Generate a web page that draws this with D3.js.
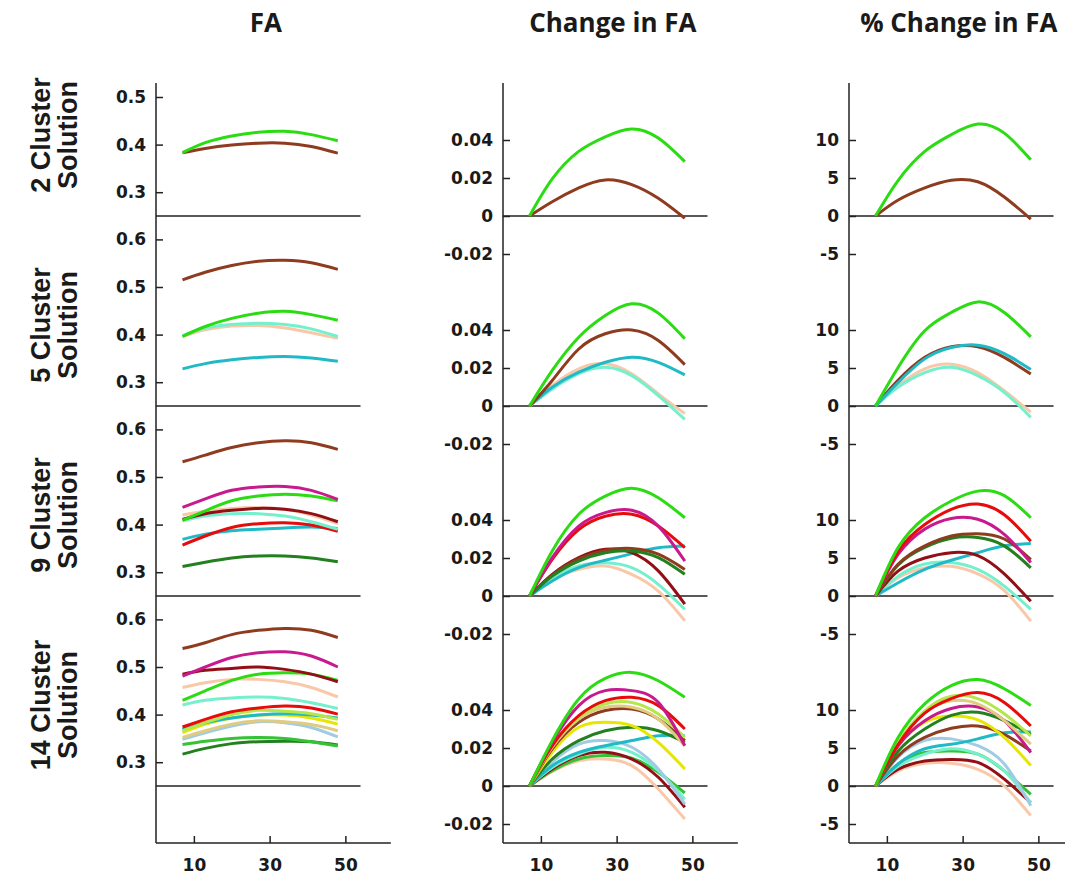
<!DOCTYPE html>
<html lang="en">
<head>
<meta charset="UTF-8">
<title>FA by cluster solution</title>
<script src="https://cdn.jsdelivr.net/npm/d3@7"></script>
<style>
  body { margin: 0; background: #fff; }
  .tick text { font-family: "DejaVu Sans", sans-serif; font-weight: bold; font-size: 17px; fill: #1a1a1a; }
  .title { font-family: "Open Sans", sans-serif; font-weight: bold; font-size: 26px; fill: #1a1a1a; }
  .rowlab { font-family: "Liberation Sans", Arial, sans-serif; font-weight: bold; font-size: 27px; fill: #1a1a1a; }
</style>
</head>
<body>
<div id="chart"></div>
<script>
// ---- data ----
const ages = [7, 13, 20, 27, 34, 41, 48];
const xTicks = [10, 30, 50];
const colTitles = ["FA", "Change in FA", "% Change in FA"];
const rowLabels = [["2 Cluster", "Solution"], ["5 Cluster", "Solution"], ["9 Cluster", "Solution"], ["14 Cluster", "Solution"]];
const faTicksTop = [0.3, 0.4, 0.5];
const faTicks = [0.3, 0.4, 0.5, 0.6];
const chgTicks = [-0.02, 0, 0.02, 0.04];
const pctTicks = [-5, 0, 5, 10];

const fa2 = {
  brown: [0.383, 0.392, 0.399, 0.403, 0.403, 0.396, 0.382],
  lime:  [0.383, 0.404, 0.418, 0.426, 0.428, 0.421, 0.408]
};
const chg2 = {
  brown: [0, 0.0075, 0.0148, 0.019, 0.0165, 0.0093, -0.0012],
  lime:  [0, 0.0195, 0.034, 0.0417, 0.0458, 0.041, 0.0286]
};
const pct2 = {
  brown: [0, 2.1, 3.7, 4.7, 4.5, 2.5, -0.4],
  lime:  [0, 4.7, 8.5, 10.7, 12.1, 10.9, 7.4]
};

const fa5 = {
  teal:  [0.328, 0.339, 0.347, 0.352, 0.354, 0.351, 0.344],
  peach: [0.396, 0.41, 0.418, 0.419, 0.414, 0.404, 0.392],
  aqua:  [0.398, 0.414, 0.421, 0.424, 0.421, 0.412, 0.396],
  lime:  [0.396, 0.417, 0.434, 0.445, 0.449, 0.442, 0.43],
  brown: [0.515, 0.531, 0.545, 0.554, 0.556, 0.551, 0.537]
};
const chg5 = {
  peach: [0, 0.0108, 0.0196, 0.0222, 0.017, 0.0064, -0.004],
  aqua:  [0, 0.009, 0.017, 0.0204, 0.016, 0.0055, -0.007],
  teal:  [0, 0.0099, 0.0178, 0.023, 0.0257, 0.023, 0.0164],
  brown: [0, 0.0134, 0.030, 0.038, 0.040, 0.0345, 0.0218],
  lime:  [0, 0.0187, 0.0362, 0.0476, 0.0538, 0.0489, 0.0354]
};
const pct5 = {
  peach: [0, 2.7, 4.9, 5.5, 4.4, 2.0, -0.8],
  aqua:  [0, 2.5, 4.4, 5.1, 4.0, 1.8, -1.5],
  brown: [0, 3.4, 6.4, 7.8, 7.8, 6.4, 4.2],
  teal:  [0, 3.1, 6.2, 7.7, 8.0, 6.9, 4.8],
  lime:  [0, 5.1, 9.9, 12.3, 13.7, 12.3, 9.1]
};

const fa9 = {
  peach:     [0.42, 0.428, 0.434, 0.436, 0.432, 0.42, 0.402],
  darkgreen: [0.312, 0.321, 0.330, 0.334, 0.334, 0.33, 0.322],
  teal:      [0.369, 0.38, 0.387, 0.39, 0.393, 0.395, 0.392],
  red:       [0.357, 0.376, 0.394, 0.402, 0.404, 0.399, 0.386],
  aqua:      [0.408, 0.418, 0.423, 0.423, 0.418, 0.406, 0.39],
  darkred:   [0.411, 0.423, 0.43, 0.434, 0.432, 0.423, 0.406],
  lime:      [0.409, 0.429, 0.45, 0.46, 0.464, 0.46, 0.45],
  magenta:   [0.436, 0.454, 0.472, 0.479, 0.48, 0.472, 0.453],
  brown:     [0.532, 0.546, 0.562, 0.572, 0.576, 0.572, 0.558]
};
const chg9 = {
  peach:     [0, 0.0088, 0.014, 0.0158, 0.0114, 0.0026, -0.013],
  aqua:      [0, 0.0096, 0.0158, 0.0175, 0.0149, 0.0061, -0.007],
  teal:      [0, 0.0079, 0.0149, 0.0188, 0.0223, 0.0254, 0.0263],
  darkred:   [0, 0.0114, 0.0202, 0.0246, 0.0228, 0.0132, -0.0043],
  brown:     [0, 0.011, 0.0195, 0.024, 0.025, 0.022, 0.014],
  darkgreen: [0, 0.0105, 0.0184, 0.0228, 0.0237, 0.0202, 0.0114],
  red:       [0, 0.0193, 0.035, 0.042, 0.043, 0.0368, 0.0254],
  magenta:   [0, 0.0202, 0.0368, 0.0439, 0.0451, 0.0368, 0.0184],
  lime:      [0, 0.0237, 0.043, 0.0526, 0.0567, 0.0517, 0.0412]
};
const pct9 = {
  peach:     [0, 2.4, 3.7, 3.9, 2.9, 0.7, -3.3],
  aqua:      [0, 2.6, 4.2, 4.4, 3.5, 1.3, -1.75],
  teal:      [0, 1.75, 3.5, 4.7, 5.7, 6.6, 6.9],
  darkred:   [0, 3.3, 5.0, 5.7, 5.3, 2.9, -0.7],
  darkgreen: [0, 4.1, 6.4, 7.6, 7.7, 6.6, 3.7],
  brown:     [0, 4.2, 6.6, 7.9, 8.2, 7.5, 4.8],
  magenta:   [0, 5.5, 8.8, 10.2, 10.1, 8.1, 4.4],
  red:       [0, 5.9, 9.4, 11.4, 12.1, 10.7, 7.2],
  lime:      [0, 6.4, 10.3, 12.5, 13.8, 13.2, 10.3]
};

const fa14 = {
  darkgreen: [0.317, 0.329, 0.339, 0.343, 0.344, 0.343, 0.336],
  green:     [0.337, 0.344, 0.35, 0.352, 0.35, 0.343, 0.334],
  lightblue: [0.348, 0.362, 0.376, 0.385, 0.383, 0.373, 0.353],
  tan:       [0.352, 0.366, 0.38, 0.387, 0.385, 0.379, 0.366],
  yellow:    [0.362, 0.38, 0.393, 0.399, 0.399, 0.393, 0.38],
  teal:      [0.369, 0.383, 0.393, 0.399, 0.402, 0.399, 0.393],
  ygreen:    [0.366, 0.383, 0.40, 0.409, 0.407, 0.402, 0.39],
  red:       [0.374, 0.39, 0.406, 0.414, 0.418, 0.414, 0.401],
  aqua:      [0.42, 0.43, 0.435, 0.437, 0.434, 0.425, 0.413],
  peach:     [0.457, 0.467, 0.474, 0.474, 0.469, 0.457, 0.437],
  lime:      [0.43, 0.45, 0.472, 0.485, 0.488, 0.485, 0.472],
  darkred:   [0.485, 0.493, 0.497, 0.5, 0.495, 0.485, 0.469],
  magenta:   [0.481, 0.5, 0.52, 0.53, 0.532, 0.523, 0.5],
  brown:     [0.539, 0.551, 0.568, 0.577, 0.581, 0.577, 0.562]
};
const chg14 = {
  peach:     [0, 0.0076, 0.0133, 0.0142, 0.0107, -0.0016, -0.0174],
  green:     [0, 0.0081, 0.0142, 0.016, 0.0146, 0.0072, -0.0037],
  darkred:   [0, 0.009, 0.016, 0.0177, 0.0142, 0.0046, -0.0112],
  aqua:      [0, 0.0098, 0.0168, 0.0204, 0.0177, 0.0081, -0.007],
  lightblue: [0, 0.0125, 0.022, 0.0239, 0.0204, 0.009, -0.0095],
  teal:      [0, 0.0107, 0.0177, 0.0212, 0.0239, 0.0265, 0.0265],
  darkgreen: [0, 0.0142, 0.0239, 0.0291, 0.0309, 0.0291, 0.023],
  yellow:    [0, 0.0177, 0.0309, 0.0335, 0.0318, 0.023, 0.009],
  brown:     [0, 0.0195, 0.0335, 0.0397, 0.0405, 0.0353, 0.0239],
  tan:       [0, 0.0204, 0.0353, 0.0414, 0.0414, 0.0353, 0.0212],
  ygreen:    [0, 0.0212, 0.0362, 0.0432, 0.044, 0.0379, 0.0256],
  red:       [0, 0.0212, 0.037, 0.0449, 0.0467, 0.0423, 0.030],
  magenta:   [0, 0.023, 0.0423, 0.0502, 0.0502, 0.044, 0.0212],
  lime:      [0, 0.0239, 0.0458, 0.0566, 0.0598, 0.0554, 0.0467]
};
const pct14 = {
  peach:     [0, 2.0, 3.0, 3.0, 2.2, 0, -3.9],
  darkred:   [0, 2.2, 3.3, 3.5, 3.1, 0.9, -2.2],
  green:     [0, 2.9, 4.4, 4.6, 4.2, 2.0, -1.1],
  aqua:      [0, 2.6, 4.2, 4.9, 4.2, 2.0, -2.2],
  lightblue: [0, 3.8, 6.0, 6.2, 5.3, 2.9, -2.6],
  teal:      [0, 2.9, 4.9, 5.5, 6.2, 7.0, 7.1],
  brown:     [0, 4.0, 6.4, 7.6, 7.9, 6.8, 4.6],
  yellow:    [0, 5.3, 8.4, 9.2, 8.7, 6.4, 2.7],
  darkgreen: [0, 4.6, 7.5, 9.3, 9.7, 8.6, 6.8],
  magenta:   [0, 5.3, 8.6, 10.2, 10.4, 8.6, 4.4],
  tan:       [0, 5.7, 9.7, 11.2, 10.8, 8.6, 5.5],
  ygreen:    [0, 5.7, 9.9, 11.8, 11.5, 9.5, 6.6],
  red:       [0, 5.5, 9.6, 11.5, 12.3, 11.0, 7.9],
  lime:      [0, 6.4, 10.8, 13.2, 14.0, 12.8, 10.6]
};

const panels = [
  [fa2, chg2, pct2],
  [fa5, chg5, pct5],
  [fa9, chg9, pct9],
  [fa14, chg14, pct14]
];

// ---- styling ----
const colors = {
  lime: "#2bdc12", brown: "#8e3b1f", aqua: "#74f0cc", teal: "#1fbac6",
  peach: "#f9c8a8", magenta: "#c81a8e", darkred: "#920f16", red: "#e80b0b",
  darkgreen: "#23801f", yellow: "#e6e600", ygreen: "#b5e64a", tan: "#e0cc80",
  lightblue: "#9fcbe3", green: "#36c236"
};

const width = 1065, height = 879;
const firstZero = 216, rowPitch = 190;
const axisTop = 83, axisBottom = 843;
const colOrigin = [156, 503, 849];
const pxPerYear = 3.7875;
// per column: value at the row line, pixels per unit
const colBase = [0.25, 0, 0];
const colK = [476, 1900, 7.6];

const svg = d3.select("#chart").append("svg")
    .attr("width", width)
    .attr("height", height);

const fmt = [
  d => d.toFixed(1),
  d => d === 0 ? "0" : d.toFixed(2),
  d => String(d)
];

const line = d3.line().curve(d3.curveNatural);

colTitles.forEach((t, c) => {
  const x = d3.scaleLinear().domain([0, 50]).range([colOrigin[c], colOrigin[c] + 50 * pxPerYear]);
  const g = svg.append("g");

  // title
  g.append("text").attr("class", "title")
      .attr("x", x(29)).attr("y", 32)
      .attr("text-anchor", "middle")
      .text(t);

  for (let r = 0; r < 4; r++) {
    const zero = firstZero + r * rowPitch;
    const y = d3.scaleLinear()
        .domain([colBase[c], colBase[c] + rowPitch / colK[c]])
        .range([zero, zero - rowPitch]);

    let ticks = c === 0 ? (r === 0 ? faTicksTop : faTicks) : (c === 1 ? chgTicks : pctTicks);

    g.append("g")
        .attr("transform", `translate(${x(0)},0)`)
        .call(d3.axisLeft(y).tickValues(ticks).tickFormat(fmt[c]).tickSize(-7).tickPadding(10))
        .call(a => a.select(".domain").remove())
        .call(a => a.selectAll(".tick line").attr("stroke", "#222").attr("stroke-width", 1.5));

    // row line
    g.append("line")
        .attr("x1", x(0)).attr("x2", x(54))
        .attr("y1", y(colBase[c])).attr("y2", y(colBase[c]))
        .attr("stroke", "#222").attr("stroke-width", 1.5);

    const series = panels[r][c];
    Object.keys(series).forEach(k => {
      g.append("path")
          .attr("d", line(ages.map((a, i) => [x(a), y(series[k][i])])))
          .attr("fill", "none")
          .attr("stroke", colors[k])
          .attr("stroke-width", 3);
    });
  }

  // vertical axis line
  g.append("line")
      .attr("x1", x(0)).attr("x2", x(0))
      .attr("y1", axisTop).attr("y2", axisBottom)
      .attr("stroke", "#222").attr("stroke-width", 1.5);

  // bottom axis
  g.append("g")
      .attr("transform", `translate(0,${axisBottom})`)
      .call(d3.axisBottom(x.copy().domain([0, 62]).range([x(0), x(62)])).tickValues(xTicks).tickSize(-7).tickPadding(16))
      .call(a => a.select(".domain").attr("stroke", "#222").attr("stroke-width", 1.5).attr("d", `M${x(0)},0H${x(62)}`))
      .call(a => a.selectAll(".tick line").attr("stroke", "#222").attr("stroke-width", 1.5));
});

// row labels
rowLabels.forEach((lab, r) => {
  const cy = 135 + r * rowPitch;
  lab.forEach((s, j) => {
    const cx = 41 + j * 27;
    svg.append("text").attr("class", "rowlab")
        .attr("transform", `translate(${cx},${cy}) rotate(-90)`)
        .attr("text-anchor", "middle")
        .attr("dy", "0.35em")
        .text(s);
  });
});
</script>
</body>
</html>
